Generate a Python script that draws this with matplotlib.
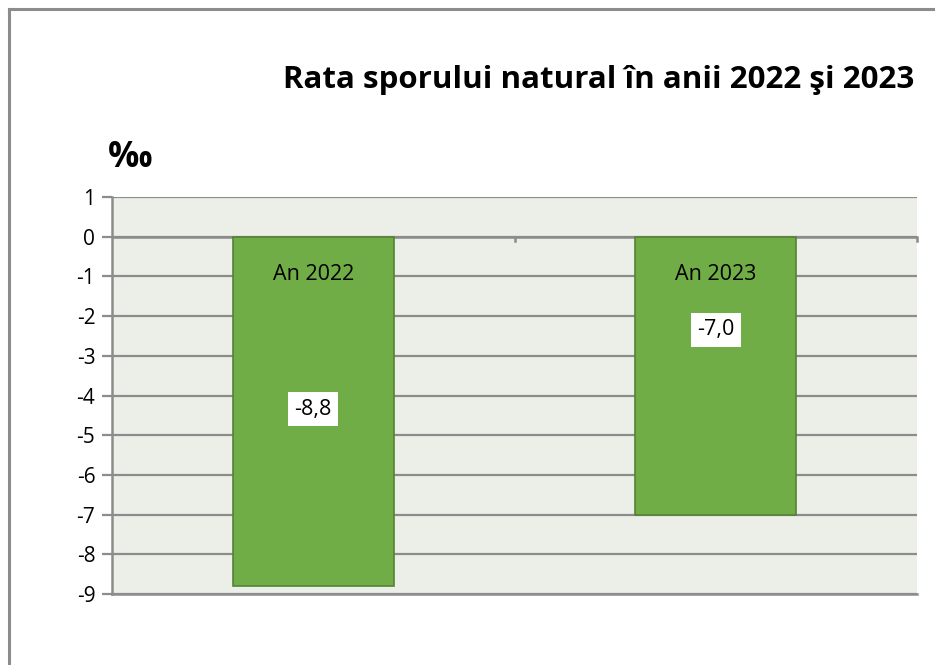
import matplotlib.pyplot as plt
from matplotlib.lines import Line2D

categories = ['An 2022', 'An 2023']
values = [-8.8, -7.0]
value_labels = ['-8,8', '-7,0']
# where the labels sit on the value axis
name_label_y = [-0.95, -0.95]
value_label_y = [-4.35, -2.35]
yticks = list(range(1, -10, -1))

plt.rcParams['font.family'] = ['Open Sans', 'DejaVu Sans']

fig = plt.figure(figsize=(9.35, 6.65), dpi=100)
ax = fig.add_axes([112 / 935, 1 - 594 / 665, (917 - 112) / 935, (594 - 197) / 665])
ax.set_facecolor('#EBEFE8')

x = list(range(len(categories)))
ax.bar(x, values, width=0.4, color='#70AD47', edgecolor='#548235', linewidth=1.2, zorder=3)

for i in x:
    ax.text(i, name_label_y[i], categories[i], ha='center', va='center', fontsize=15.5, zorder=4)
    ax.text(i, value_label_y[i], value_labels[i], ha='center', va='center', fontsize=15.5, zorder=4,
            bbox=dict(boxstyle='square,pad=0.3', facecolor='white', edgecolor='none'))

ax.set_xlim(-0.5, 1.5)
ax.set_ylim(-9, 1)
ax.set_yticks(yticks)
ax.set_yticklabels([str(t) for t in yticks], fontsize=15)
ax.yaxis.grid(True, color='#8C8C8C', linewidth=1.6, zorder=1)
ax.set_axisbelow(True)
ax.tick_params(axis='y', length=7, width=1.6, color='#8C8C8C', pad=5)
ax.set_xticks([])

for s in ['top', 'right']:
    ax.spines[s].set_visible(False)
for s in ['left', 'bottom']:
    ax.spines[s].set_color('#8C8C8C')
    ax.spines[s].set_linewidth(1.8)

# category axis at zero with tick marks between categories
ax.axhline(0, color='#8C8C8C', linewidth=1.8, zorder=2)
for xt in [0.5, 1.5]:
    ax.plot([xt, xt], [0, -0.12], color='#8C8C8C', linewidth=1.8, clip_on=False, zorder=2)

fig.text(599 / 935, 1 - 80 / 665, 'Rata sporului natural în anii 2022 şi 2023',
         ha='center', va='center', fontsize=22.5, fontweight='bold')
fig.text(108 / 935, 1 - 158 / 665, '‰', ha='left', va='center', fontsize=25, fontweight='bold')

# chart border (only left and top edges are inside the image)
fig.add_artist(Line2D([9 / 935, 9 / 935], [0, 1 - 9 / 665], color='#8C8C8C', linewidth=2.2))
fig.add_artist(Line2D([9 / 935, 1], [1 - 9 / 665, 1 - 9 / 665], color='#8C8C8C', linewidth=2.2))

fig.savefig('out.png', dpi=100, facecolor='white')
